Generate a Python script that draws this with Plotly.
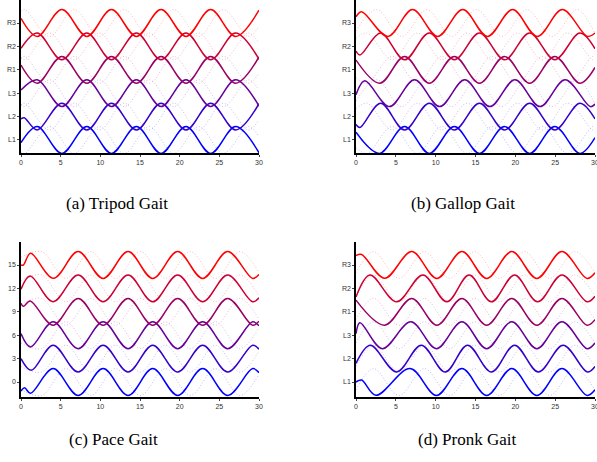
import plotly.graph_objects as go

LEGS = ["L1", "L2", "L3", "R1", "R2", "R3"]
SOLID_COLORS = ["rgb(0,0,255)", "rgb(51,0,204)", "rgb(102,0,153)",
                "rgb(153,0,102)", "rgb(204,0,51)", "rgb(255,0,0)"]
DOT_COLORS = ["rgba(0,0,255,0.28)", "rgba(51,0,204,0.28)", "rgba(102,0,153,0.28)",
              "rgba(153,0,102,0.28)", "rgba(204,0,51,0.28)", "rgba(255,0,0,0.28)"]
Y_TICKS = [0, 3, 6, 9, 12, 15]
Y_TICK_NUM = ["0", "3", "6", "9", "12", "15"]
X_TICKS = [0, 5, 10, 15, 20, 25, 30]
CAPTIONS = ["(a) Tripod Gait", "(b) Gallop Gait", "(c) Pace Gait", "(d) Pronk Gait"]

# ---------------- (a) Tripod : knot times / values -------------
TRI_T_A = [0, 2.05, 5.15, 8.3, 11.4, 14.55, 17.65, 20.8, 23.9, 27.05, 30]
TRI_T_B = [0, 0.4, 2.05, 5.15, 8.3, 11.4, 14.55, 17.65, 20.8, 23.9, 27.05, 30]
TRI_V_L1 = [-0.35, 1.72, -1.72, 1.72, -1.72, 1.72, -1.72, 1.72, -1.72, 1.72, -1.65]
TRI_V_L2 = [2.7, 2.85, 1.28, 4.72, 1.28, 4.72, 1.28, 4.72, 1.28, 4.72, 1.28, 4.65]
TRI_V_L3 = [6.4, 7.72, 4.28, 7.72, 4.28, 7.72, 4.28, 7.72, 4.28, 7.72, 4.35]
TRI_V_R1 = [9.6, 7.28, 10.72, 7.28, 10.72, 7.28, 10.72, 7.28, 10.72, 7.28, 10.65]
TRI_V_R2 = [11.75, 13.72, 10.28, 13.72, 10.28, 13.72, 10.28, 13.72, 10.28, 13.72, 10.35]
TRI_V_R3 = [15.6, 13.28, 16.72, 13.28, 16.72, 13.28, 16.72, 13.28, 16.72, 13.28, 16.65]
TRI_DT = [0, 0.5, 3.6, 6.7, 9.9, 13.0, 16.15, 19.25, 22.4, 25.5, 28.65, 30]
TRI_DV_L1 = [-1.5, -1.72, 1.72, -1.72, 1.72, -1.72, 1.72, -1.72, 1.72, -1.72, 1.72, 0.4]
TRI_DV_L2 = [4.5, 4.72, 1.28, 4.72, 1.28, 4.72, 1.28, 4.72, 1.28, 4.72, 1.28, 2.6]
TRI_DV_L3 = [4.5, 4.28, 7.72, 4.28, 7.72, 4.28, 7.72, 4.28, 7.72, 4.28, 7.72, 6.4]
TRI_DV_R1 = [10.5, 10.72, 7.28, 10.72, 7.28, 10.72, 7.28, 10.72, 7.28, 10.72, 7.28, 8.6]
TRI_DV_R2 = [10.5, 10.28, 13.72, 10.28, 13.72, 10.28, 13.72, 10.28, 13.72, 10.28, 13.72, 12.4]
TRI_DV_R3 = [16.5, 16.72, 13.28, 16.72, 13.28, 16.72, 13.28, 16.72, 13.28, 16.72, 13.28, 14.6]

# ---------------- (b) Gallop ----------------
GAL_T_L1 = [0, 2.95, 6.1, 9.2, 12.35, 15.5, 18.65, 21.8, 24.95, 28.1, 30]
GAL_V_L1 = [1.0, -1.72, 1.72, -1.72, 1.72, -1.72, 1.72, -1.72, 1.72, -1.72, 0.3]
GAL_T_L2 = [0, 0.5, 3.1, 6.1, 9.2, 12.35, 15.5, 18.65, 21.8, 24.95, 28.1, 30]
GAL_V_L2 = [2.0, 1.6, 4.72, 1.28, 4.72, 1.28, 4.72, 1.28, 4.72, 1.28, 4.72, 2.7]
GAL_T_L3 = [0, 1.1, 4.2, 7.35, 10.5, 13.65, 16.8, 19.95, 23.1, 26.25, 29.4, 30]
GAL_V_L3 = [5.8, 7.6, 4.28, 7.72, 4.28, 7.72, 4.28, 7.72, 4.28, 7.72, 4.28, 4.6]
GAL_T_R1 = [0, 3.0, 6.1, 9.2, 12.35, 15.5, 18.65, 21.8, 24.95, 28.1, 30]
GAL_V_R1 = [10.25, 7.28, 10.72, 7.28, 10.72, 7.28, 10.72, 7.28, 10.72, 7.28, 9.3]
GAL_T_R2 = [0, 0.5, 3.1, 6.1, 9.2, 12.35, 15.5, 18.65, 21.8, 24.95, 28.1, 30]
GAL_V_R2 = [11.4, 10.9, 13.72, 10.28, 13.72, 10.28, 13.72, 10.28, 13.72, 10.28, 13.72, 11.7]
GAL_T_R3 = [0, 0.7, 4.0, 7.1, 10.25, 13.4, 16.5, 19.65, 22.75, 25.9, 29.05, 30]
GAL_V_R3 = [15.8, 16.45, 13.28, 16.72, 13.28, 16.72, 13.28, 16.72, 13.28, 16.72, 13.28, 13.7]
GAL_DT_A = [0, 1.4, 4.55, 7.7, 10.8, 13.95, 17.1, 20.25, 23.4, 26.55, 29.7, 30]
GAL_DV_L1 = [-1.0, -1.72, 1.72, -1.72, 1.72, -1.72, 1.72, -1.72, 1.72, -1.72, 1.72, 1.6]
GAL_DV_L2 = [4.0, 4.72, 1.28, 4.72, 1.28, 4.72, 1.28, 4.72, 1.28, 4.72, 1.28, 1.4]
GAL_DV_R1 = [8.0, 7.28, 10.72, 7.28, 10.72, 7.28, 10.72, 7.28, 10.72, 7.28, 10.72, 10.6]
GAL_DV_R2 = [13.0, 13.72, 10.28, 13.72, 10.28, 13.72, 10.28, 13.72, 10.28, 13.72, 10.28, 10.4]
GAL_DT_B = [0, 2.6, 5.75, 8.9, 12.0, 15.15, 18.3, 21.45, 24.6, 27.75, 30]
GAL_DV_L3 = [5.0, 7.72, 4.28, 7.72, 4.28, 7.72, 4.28, 7.72, 4.28, 7.72, 4.6]
GAL_DV_R3 = [14.0, 16.72, 13.28, 16.72, 13.28, 16.72, 13.28, 16.72, 13.28, 16.72, 13.6]

# ---------------- (c) Pace ----------------
PAC_T_L1 = [0, 0.45, 1.2, 4.05, 7.2, 10.35, 13.5, 16.6, 19.75, 22.9, 26.05, 29.2, 30]
PAC_V_L1 = [-1.15, -0.75, -1.45, 1.72, -1.72, 1.72, -1.72, 1.72, -1.72, 1.72, -1.72, 1.72, 1.2]
PAC_T_L2 = [0, 1.3, 4.05, 7.2, 10.35, 13.5, 16.6, 19.75, 22.9, 26.05, 29.2, 30]
PAC_V_L2 = [3.0, 1.5, 4.72, 1.28, 4.72, 1.28, 4.72, 1.28, 4.72, 1.28, 4.72, 4.2]
PAC_T_L3 = [0, 1.2, 4.05, 7.2, 10.35, 13.5, 16.6, 19.75, 22.9, 26.05, 29.2, 30]
PAC_V_L3 = [6.2, 4.5, 7.72, 4.28, 7.72, 4.28, 7.72, 4.28, 7.72, 4.28, 7.72, 7.2]
PAC_T_R1 = [0, 0.3, 1.15, 4.05, 7.2, 10.35, 13.5, 16.6, 19.75, 22.9, 26.05, 29.2, 30]
PAC_V_R1 = [10.1, 9.7, 10.4, 7.28, 10.72, 7.28, 10.72, 7.28, 10.72, 7.28, 10.72, 7.28, 7.8]
PAC_T_R2 = [0, 1.15, 4.05, 7.2, 10.35, 13.5, 16.6, 19.75, 22.9, 26.05, 29.2, 30]
PAC_V_R2 = [11.9, 13.6, 10.3, 13.72, 10.28, 13.72, 10.28, 13.72, 10.28, 13.72, 10.28, 10.8]
PAC_T_R3 = [0, 0.3, 1.2, 4.1, 7.2, 10.35, 13.5, 16.6, 19.75, 22.9, 26.05, 29.2, 30]
PAC_V_R3 = [15.0, 15.0, 16.5, 13.3, 16.72, 13.28, 16.72, 13.28, 16.72, 13.28, 16.72, 13.28, 13.8]
PAC_DT = [0, 2.6, 5.65, 8.8, 11.9, 15.05, 18.2, 21.35, 24.5, 27.6, 30]
PAC_DV_L1 = [-1.0, -1.72, 1.72, -1.72, 1.72, -1.72, 1.72, -1.72, 1.72, -1.72, 1.0]
PAC_DV_L2 = [2.0, 1.28, 4.72, 1.28, 4.72, 1.28, 4.72, 1.28, 4.72, 1.28, 4.0]
PAC_DV_L3 = [5.0, 4.28, 7.72, 4.28, 7.72, 4.28, 7.72, 4.28, 7.72, 4.28, 7.0]
PAC_DV_R1 = [10.0, 10.72, 7.28, 10.72, 7.28, 10.72, 7.28, 10.72, 7.28, 10.72, 8.0]
PAC_DV_R2 = [13.0, 13.72, 10.28, 13.72, 10.28, 13.72, 10.28, 13.72, 10.28, 13.72, 11.0]
PAC_DV_R3 = [16.0, 16.72, 13.28, 16.72, 13.28, 16.72, 13.28, 16.72, 13.28, 16.72, 14.0]

# ---------------- (d) Pronk ----------------
PRO_T_L1 = [0, 0.7, 2.5, 6.8, 10.1, 13.3, 16.4, 19.55, 22.7, 25.85, 29.0, 30]
PRO_V_L1 = [0.0, 0.25, -1.7, 1.72, -1.72, 1.72, -1.72, 1.72, -1.72, 1.72, -1.72, -1.0]
PRO_T_L2 = [0, 1.8, 5.1, 8.2, 11.2, 14.0, 17.0, 19.9, 22.9, 26.0, 29.05, 30]
PRO_V_L2 = [2.4, 4.72, 1.3, 4.72, 1.28, 4.72, 1.28, 4.72, 1.28, 4.72, 1.28, 2.0]
PRO_T_L3 = [0, 0.5, 3.3, 6.9, 10.1, 13.3, 16.4, 19.55, 22.7, 25.85, 29.0, 30]
PRO_V_L3 = [6.2, 7.6, 4.28, 7.72, 4.28, 7.72, 4.28, 7.72, 4.28, 7.72, 4.28, 5.0]
PRO_T_R1 = [0, 3.6, 7.0, 10.15, 13.3, 16.4, 19.55, 22.7, 25.85, 29.0, 30]
PRO_V_R1 = [10.5, 7.28, 10.72, 7.28, 10.72, 7.28, 10.72, 7.28, 10.72, 7.28, 8.0]
PRO_T_R2 = [0, 1.76, 5.1, 8.4, 11.4, 14.2, 17.0, 19.9, 22.8, 25.85, 29.0, 30]
PRO_V_R2 = [10.9, 13.72, 10.28, 13.72, 10.28, 13.72, 10.28, 13.72, 10.28, 13.72, 10.28, 11.0]
PRO_T_R3 = [0, 0.7, 3.6, 7.0, 10.15, 13.3, 16.4, 19.55, 22.7, 25.85, 29.0, 30]
PRO_V_R3 = [16.2, 16.35, 13.3, 16.72, 13.28, 16.72, 13.28, 16.72, 13.28, 16.72, 13.28, 14.0]
PRO_DT = [0, 2.2, 5.4, 8.6, 11.75, 14.9, 18.0, 21.15, 24.3, 27.45, 30]
PRO_DV_L1 = [-1.0, 1.72, -1.72, 1.72, -1.72, 1.72, -1.72, 1.72, -1.72, 1.72, -1.0]
PRO_DV_L2 = [2.0, 4.72, 1.28, 4.72, 1.28, 4.72, 1.28, 4.72, 1.28, 4.72, 2.0]
PRO_DV_L3 = [5.0, 7.72, 4.28, 7.72, 4.28, 7.72, 4.28, 7.72, 4.28, 7.72, 5.0]
PRO_DV_R1 = [8.0, 10.72, 7.28, 10.72, 7.28, 10.72, 7.28, 10.72, 7.28, 10.72, 8.0]
PRO_DV_R2 = [11.0, 13.72, 10.28, 13.72, 10.28, 13.72, 10.28, 13.72, 10.28, 13.72, 11.0]
PRO_DV_R3 = [14.0, 16.72, 13.28, 16.72, 13.28, 16.72, 13.28, 16.72, 13.28, 16.72, 14.0]

PANELS = [
    dict(solid=[(TRI_T_A, TRI_V_L1), (TRI_T_B, TRI_V_L2), (TRI_T_A, TRI_V_L3),
                (TRI_T_A, TRI_V_R1), (TRI_T_A, TRI_V_R2), (TRI_T_A, TRI_V_R3)],
         dotted=[(TRI_DT, TRI_DV_L1), (TRI_DT, TRI_DV_L2), (TRI_DT, TRI_DV_L3),
                 (TRI_DT, TRI_DV_R1), (TRI_DT, TRI_DV_R2), (TRI_DT, TRI_DV_R3)],
         labels=LEGS, dom_x=[21 / 597, 259 / 597], dom_y=[1 - 153 / 462, 1.0], yr=[-1.67, 17.95]),
    dict(solid=[(GAL_T_L1, GAL_V_L1), (GAL_T_L2, GAL_V_L2), (GAL_T_L3, GAL_V_L3),
                (GAL_T_R1, GAL_V_R1), (GAL_T_R2, GAL_V_R2), (GAL_T_R3, GAL_V_R3)],
         dotted=[(GAL_DT_A, GAL_DV_L1), (GAL_DT_A, GAL_DV_L2), (GAL_DT_B, GAL_DV_L3),
                 (GAL_DT_A, GAL_DV_R1), (GAL_DT_A, GAL_DV_R2), (GAL_DT_B, GAL_DV_R3)],
         labels=LEGS, dom_x=[356 / 597, 595 / 597], dom_y=[1 - 153 / 462, 1.0], yr=[-1.67, 17.95]),
    dict(solid=[(PAC_T_L1, PAC_V_L1), (PAC_T_L2, PAC_V_L2), (PAC_T_L3, PAC_V_L3),
                (PAC_T_R1, PAC_V_R1), (PAC_T_R2, PAC_V_R2), (PAC_T_R3, PAC_V_R3)],
         dotted=[(PAC_DT, PAC_DV_L1), (PAC_DT, PAC_DV_L2), (PAC_DT, PAC_DV_L3),
                 (PAC_DT, PAC_DV_R1), (PAC_DT, PAC_DV_R2), (PAC_DT, PAC_DV_R3)],
         labels=Y_TICK_NUM, dom_x=[21 / 597, 259 / 597], dom_y=[1 - 397 / 462, 1 - 242 / 462], yr=[-1.92, 17.95]),
    dict(solid=[(PRO_T_L1, PRO_V_L1), (PRO_T_L2, PRO_V_L2), (PRO_T_L3, PRO_V_L3),
                (PRO_T_R1, PRO_V_R1), (PRO_T_R2, PRO_V_R2), (PRO_T_R3, PRO_V_R3)],
         dotted=[(PRO_DT, PRO_DV_L1), (PRO_DT, PRO_DV_L2), (PRO_DT, PRO_DV_L3),
                 (PRO_DT, PRO_DV_R1), (PRO_DT, PRO_DV_R2), (PRO_DT, PRO_DV_R3)],
         labels=LEGS, dom_x=[356 / 597, 595 / 597], dom_y=[1 - 397 / 462, 1 - 242 / 462], yr=[-1.92, 17.95]),
]
CAPTION_POS = [(117, 203), (463, 203), (113, 439), (467, 439)]

fig = go.Figure()
for i, p in enumerate(PANELS):
    xa = "x" if i == 0 else f"x{i + 1}"
    ya = "y" if i == 0 else f"y{i + 1}"
    for k, (t, v) in enumerate(p["dotted"]):
        fig.add_trace(go.Scatter(x=t, y=v, mode="lines", xaxis=xa, yaxis=ya,
                                 line=dict(color=DOT_COLORS[k], width=1, dash="1px,2px",
                                           shape="spline", smoothing=1.0),
                                 showlegend=False, hoverinfo="skip"))
    for k, (t, v) in enumerate(p["solid"]):
        fig.add_trace(go.Scatter(x=t, y=v, mode="lines", xaxis=xa, yaxis=ya,
                                 line=dict(color=SOLID_COLORS[k], width=1.5,
                                           shape="spline", smoothing=1.0),
                                 showlegend=False, name=LEGS[k]))
    key = "" if i == 0 else str(i + 1)
    fig.layout["xaxis" + key] = dict(domain=p["dom_x"], range=[0, 30], anchor=ya,
                                     tickvals=X_TICKS, ticks="outside", ticklen=2,
                                     showline=True, linecolor="black", linewidth=1.5,
                                     showgrid=False, zeroline=False, automargin=False,
                                     ticklabeloverflow="allow",
                                     tickfont=dict(size=7, color="#333",
                                                   family="Liberation Sans"))
    fig.layout["yaxis" + key] = dict(domain=p["dom_y"], range=p["yr"], anchor=xa,
                                     tickvals=Y_TICKS, ticktext=p["labels"],
                                     ticks="outside", ticklen=2,
                                     showline=True, linecolor="black", linewidth=1.5,
                                     showgrid=False, zeroline=False, automargin=False,
                                     tickfont=dict(size=7, color="#333",
                                                   family="Liberation Sans"))
    cx, cy = CAPTION_POS[i]
    fig.add_annotation(text=CAPTIONS[i], x=cx / 597, y=1 - cy / 462, xref="paper",
                       yref="paper", showarrow=False, xanchor="center", yanchor="middle",
                       font=dict(family="Liberation Serif", size=17, color="black"))

fig.update_layout(width=597, height=462, margin=dict(l=0, r=0, t=0, b=0),
                  paper_bgcolor="white", plot_bgcolor="white", template="none")
fig.write_html("out.html", config={"displayModeBar": False},
               post_script="document.body.style.margin='0';document.body.style.padding='0';")
